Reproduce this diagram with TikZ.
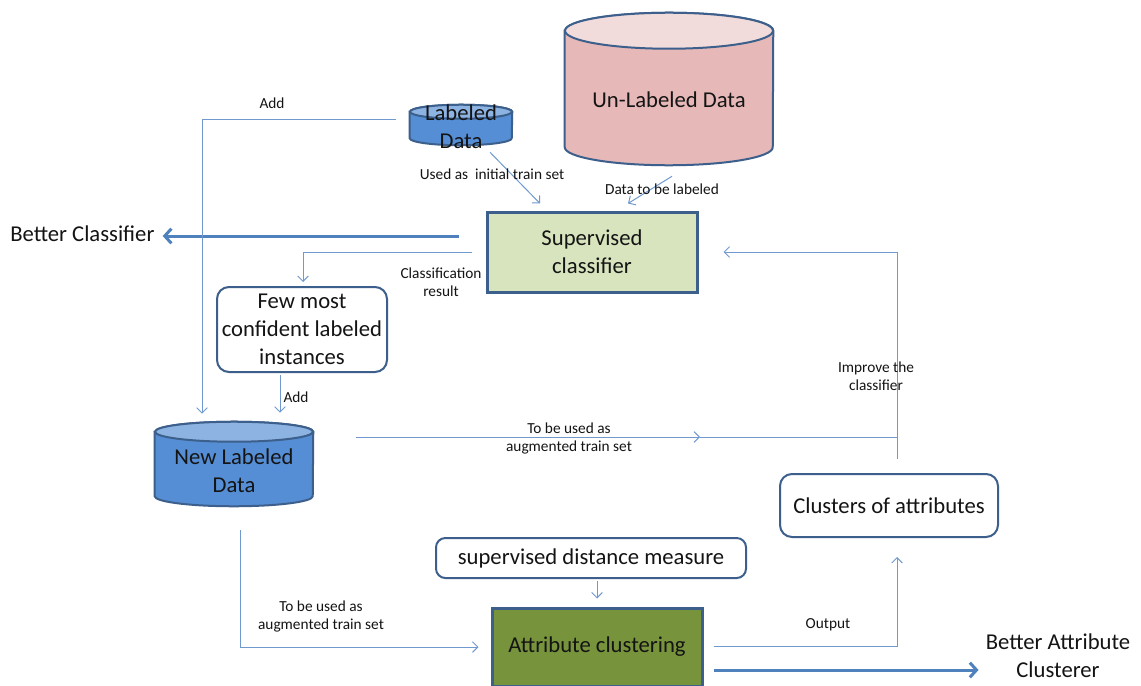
\documentclass[tikz,border=0pt]{standalone}
\usepackage{fontspec}
\setmainfont{Carlito}
\usetikzlibrary{arrows.meta,calc}
\definecolor{connc}{HTML}{7099D0}
\definecolor{bigc}{HTML}{4F81BD}
\definecolor{bordc}{HTML}{3C5F8C}
\definecolor{supfill}{HTML}{D7E4BD}
\definecolor{attrfill}{HTML}{77933C}
\definecolor{bluebody}{HTML}{558ED5}
\definecolor{bluetop}{HTML}{8DB3E2}
\definecolor{pinkbody}{HTML}{E6B9B8}
\definecolor{pinktop}{HTML}{F2DCDB}
\definecolor{txt}{HTML}{141414}
\newcommand\cylshape[6]{%
  \path[draw=#6, fill=#4, line width=1.5pt]
    ([yshift=-#3]#1.north west) -- ([yshift=#3]#1.south west)
    arc[start angle=180, end angle=360, x radius=#2, y radius=#3]
    -- ([yshift=-#3]#1.north east)
    arc[start angle=0, end angle=180, x radius=#2, y radius=#3] -- cycle;
  \path[draw=#6, fill=#5, line width=1.5pt]
    ([yshift=-#3]#1.north) ellipse[x radius=#2, y radius=#3];
}
\begin{document}
\begin{tikzpicture}[x=0.75pt,y=-0.75pt,
  mainfont/.style={font=\fontsize{17}{21}\selectfont, text=txt},
  small/.style={font=\fontsize{11.5}{13.5}\selectfont, text=txt, align=center, inner sep=0pt},
  cylbox/.style={draw=none, inner sep=0pt},
  sqbox/.style={draw=bordc, line width=2.25pt, inner sep=0pt, align=center, mainfont},
  rbox/.style={draw=bordc, fill=white, line width=1.5pt, rounded corners=9pt, inner sep=0pt, align=center, mainfont},
  conn/.style={draw=connc, line width=0.75pt},
  arr/.style={conn, -{Straight Barb[length=4pt,width=8pt]}},
  bigarr/.style={draw=bigc, line width=2.25pt, -{Straight Barb[length=5pt,width=11pt]}}
]
\useasboundingbox (0,0) rectangle (1141,685);
\clip (0,0) rectangle (1141,685);
\fill[white] (0,0) rectangle (1141,685);

% cylinders
\node[cylbox, minimum width=76.5pt, minimum height=30pt] (ld) at (461,125) {};
\cylshape{ld}{38.25pt}{5.25pt}{bluebody}{bluetop}{bordc}
\node[mainfont, align=center, inner sep=0pt] (ldt) at (461,127) {Labeled\\Data};

\node[cylbox, minimum width=156pt, minimum height=114pt] (ul) at (669,89) {};
\cylshape{ul}{78pt}{13.5pt}{pinkbody}{pinktop}{bordc}
\node[mainfont, inner sep=0pt] (ult) at (669,100) {Un-Labeled Data};

\node[cylbox, minimum width=118.5pt, minimum height=63pt] (nld) at (234,464) {};
\cylshape{nld}{59.25pt}{7.5pt}{bluebody}{bluetop}{bordc}
\node[mainfont, align=center, inner sep=0pt] (nldt) at (234,471) {New Labeled\\Data};

% boxes
\node[sqbox, fill=supfill, minimum width=157.5pt, minimum height=60pt] (sup) at (592,252) {Supervised\\classifier};
\node[rbox, minimum width=127.5pt, minimum height=63.75pt] (few) at (302,329.5) {Few most\\confident labeled\\instances};
\node[rbox, minimum width=163.5pt, minimum height=47.25pt] (clus) at (889,505.5) {Clusters of attributes};
\node[rbox, rounded corners=7pt, minimum width=232.5pt, minimum height=30pt] (sdm) at (591,558) {supervised distance measure};
\node[sqbox, fill=attrfill, minimum width=157.5pt, minimum height=58.5pt] (attr) at (597,647) {Attribute clustering};

% outer texts
\node[mainfont, anchor=west, inner sep=0pt] (bc) at (10,234) {Better Classifier};
\node[mainfont, align=center, inner sep=0pt] (bac) at (1058,656) {Better Attribute\\Clusterer};

% connectors
\draw[arr] ([shift={(29,7)}]ld.south) -- ([shift={(-52,-7)}]sup.north);
\draw[arr] ([shift={(3,11)}]ul.south) -- ([shift={(36,-7)}]sup.north);
\draw[bigarr] ([shift={(-27,-16)}]sup.west) -- ([shift={(8,2)}]bc.east);
\draw[arr] ([shift={(-14,0)}]sup.west) -| ([shift={(1,-4)}]few.north);
\draw[arr] ([shift={(-22,2)}]few.south) -- ([shift={(46,-9)}]nld.north);
\draw[arr] ([shift={(-14,-6)}]ld.west) -| ([shift={(-32,-8)}]nld.north);
\coordinate (fbx) at ([shift={(8,-14)}]clus.north);
\coordinate (augmid) at (700,437);
\draw[arr] ([shift={(43,-27)}]nld.east) -- (augmid);
\draw[conn] (augmid) -- (augmid -| fbx);
\draw[arr] (fbx) |- ([shift={(25,0)}]sup.east);
\draw[arr] ([shift={(6,24)}]nld.south) |- ([shift={(-12,0)}]attr.west);
\draw[arr] ([shift={(6,2)}]sdm.south) -- ([shift={(0,-8)}]attr.north);
\draw[arr] ([shift={(10,-1)}]attr.east) -| ([shift={(8,19)}]clus.south);
\draw[bigarr] ([shift={(10,23)}]attr.east) -- ([shift={(-7,14)}]bac.west);

% labels
\node[small] (lbladd1) at (272,103) {Add};
\node[small] (lblinit) at (492,174) {Used as\ \ initial train set};
\node[small] (lbldtl) at (662,189) {Data to be labeled};
\node[small] (lblcr) at (441,282) {Classification\\result};
\node[small] (lbladd2) at (296,397) {Add};
\node[small] (lblaug1) at (569,438) {To be used as\\augmented train set};
\node[small] (lblimp) at (876,376) {Improve the\\classifier};
\node[small] (lblaug2) at (321,616) {To be used as\\augmented train set};
\node[small] (lblout) at (828,625) {Output};
\end{tikzpicture}
\end{document}
